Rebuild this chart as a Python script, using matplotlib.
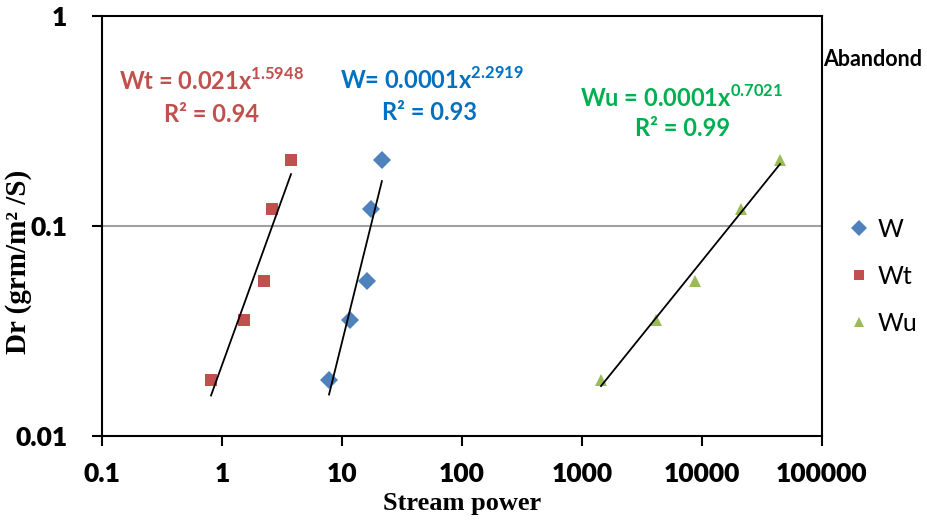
import numpy as np
import matplotlib

matplotlib.use("Agg")
import matplotlib.pyplot as plt

plt.rcParams["mathtext.fontset"] = "custom"
plt.rcParams["mathtext.rm"] = "Lato"
plt.rcParams["mathtext.bf"] = "Lato:bold"

# data
dr = [0.0185, 0.0357, 0.0547, 0.1205, 0.206]
sp_w = [7.8, 11.7, 16.2, 17.5, 21.5]
sp_wt = [0.81, 1.52, 2.24, 2.61, 3.76]
sp_wu = [1440, 4140, 8750, 21100, 44700]

series = [
    ("W", sp_w, "#4F81BD", "D", 9.5),
    ("Wt", sp_wt, "#C0504D", "s", 9),
    ("Wu", sp_wu, "#9BBB59", "^", 9),
]

labels_eq = [
    ("Wt = 0.021x$^{\\mathbf{1.5948}}$", "R² = 0.94", "#C0504D", 211, 212, 81, 114),
    ("W= 0.0001x$^{\\mathbf{2.2919}}$", "R² = 0.93", "#0070C0", 432, 430, 80, 112),
    ("Wu = 0.0001x$^{\\mathbf{0.7021}}$", "R² = 0.99", "#00B050", 681, 683, 98, 128),
]

fig = plt.figure(figsize=(9.28, 5.26), dpi=100)
ax = fig.add_axes([102 / 928, 1 - 436 / 526, 720 / 928, 420 / 526])

for name, xs, col, mk, ms in series:
    ax.plot(xs, dr, linestyle="none", marker=mk, color=col, markersize=ms,
            markeredgewidth=0, label=name, zorder=3)

# power-law trend lines (fit in log space)
for name, xs, col, mk, ms in series:
    lx = np.log10(xs)
    ly = np.log10(dr)
    b, a = np.polyfit(lx, ly, 1)
    xx = np.array([min(xs), max(xs)])
    ax.plot(xx, 10 ** (a + b * np.log10(xx)), color="black", lw=1.3, zorder=4)

ax.set_xscale("log")
ax.set_yscale("log")
ax.set_xlim(0.1, 100000)
ax.set_ylim(0.01, 1)
ax.set_xticks([0.1, 1, 10, 100, 1000, 10000, 100000])
ax.set_xticklabels(["0.1", "1", "10", "100", "1000", "10000", "100000"])
ax.set_yticks([0.01, 0.1, 1])
ax.set_yticklabels(["0.01", "0.1", "1"])
ax.minorticks_off()
ax.axhline(0.1, color="#A0A0A0", lw=1.5, zorder=1)

for s in ax.spines.values():
    s.set_linewidth(1.5)
ax.tick_params(direction="out", length=7, width=1.5)
ax.tick_params(axis="x", pad=12)
ax.tick_params(axis="y", pad=18)
for lab in ax.get_xticklabels() + ax.get_yticklabels():
    lab.set_fontfamily("Lato")
    lab.set_fontweight("heavy")
    lab.set_fontsize(19)

ax.set_xlabel("Stream power", family="Liberation Serif", weight="bold",
              fontsize=19, labelpad=4)
ax.set_ylabel("Dr (grm/m² /S)", family="Liberation Serif", weight="bold",
              fontsize=21)
ax.yaxis.set_label_coords(-70 / 720, 0.415)

for eq, r2, col, x1, x2, y1, y2 in labels_eq:
    fig.text(x1 / 928, 1 - y1 / 526, eq, color=col, family="Lato",
             weight="bold", fontsize=17, ha="center", va="center")
    fig.text(x2 / 928, 1 - y2 / 526, r2, color=col, family="Lato",
             weight="bold", fontsize=17, ha="center", va="center")

fig.text(823 / 928, 1 - 60 / 526, "Abandond", family="Lato", weight="bold",
         fontsize=15.5, ha="left", va="center")

ax.legend(loc="center left", bbox_to_anchor=(1.008, 0.38), frameon=False,
          prop={"family": "Lato", "size": 18}, handlelength=0.7,
          handletextpad=0.4, labelspacing=0.95, markerscale=0.85)

fig.savefig("out.png", dpi=100)
